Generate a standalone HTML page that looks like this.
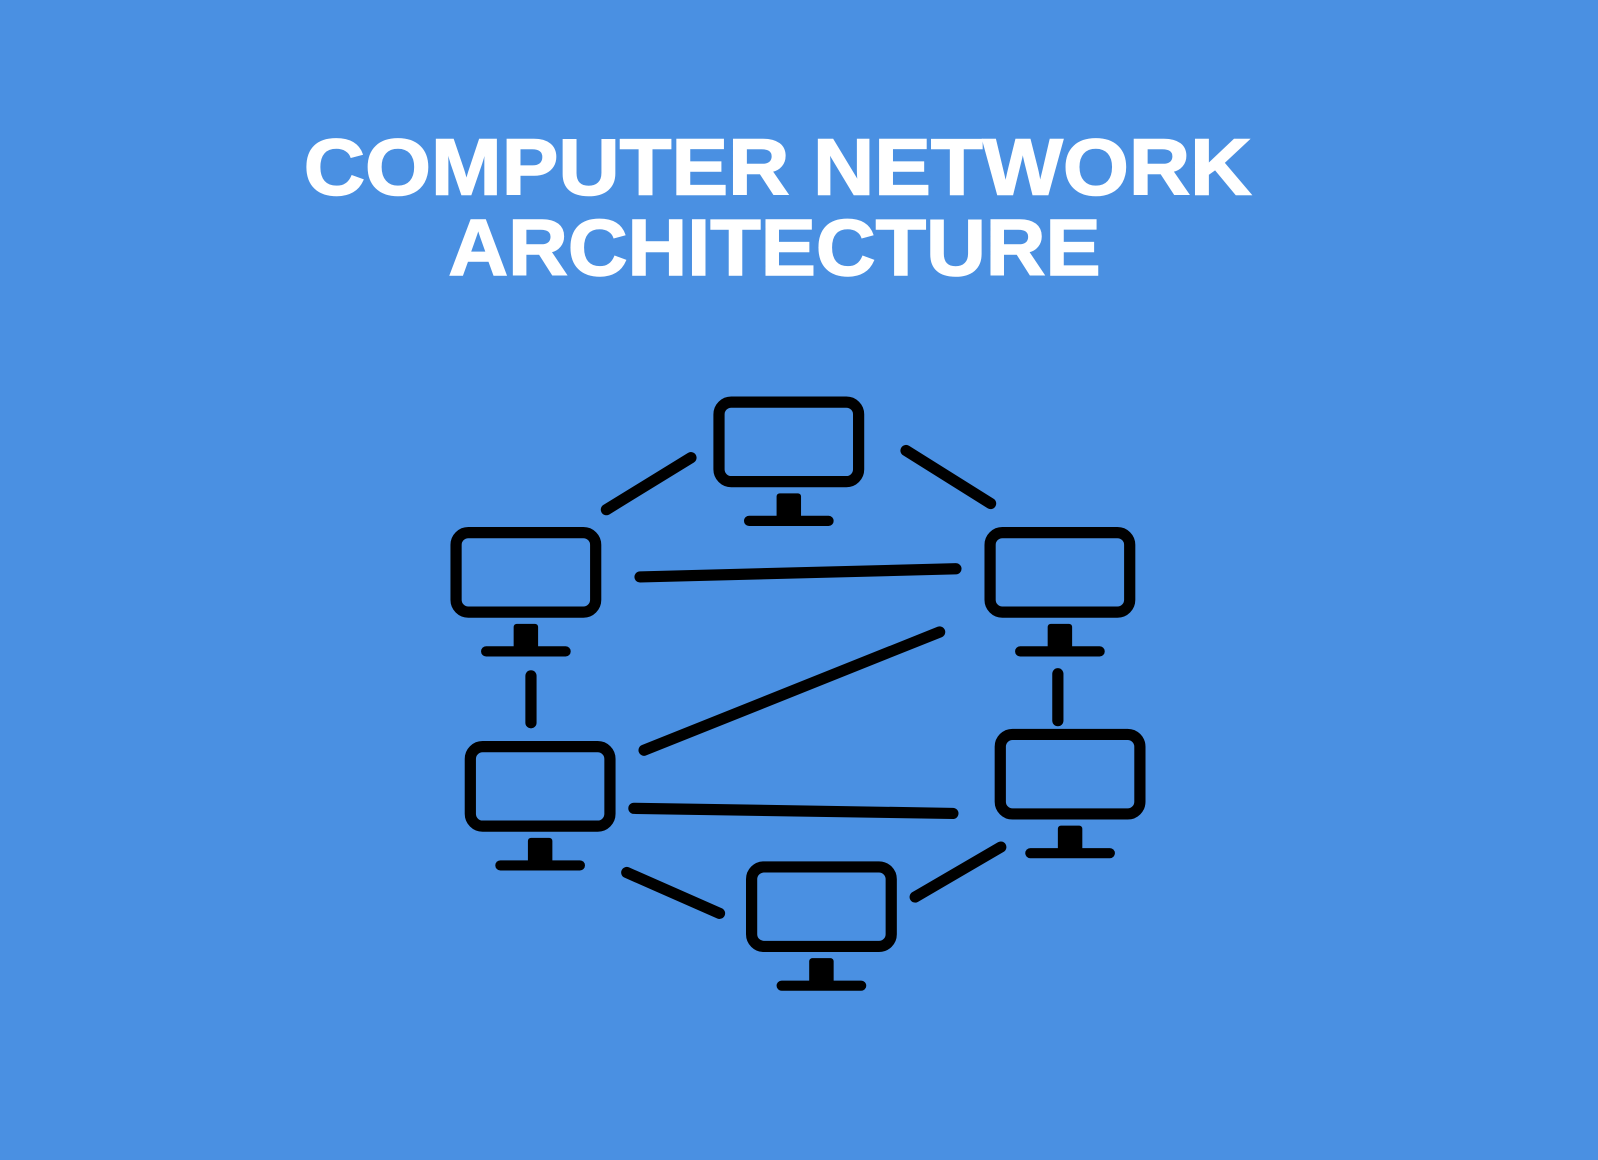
<!DOCTYPE html>
<html><head><meta charset="utf-8"><style>
html,body{margin:0;padding:0;background:#4a90e2;}
svg{display:block;}
</style></head><body>
<svg width="1598" height="1160" viewBox="0 0 1568 1138" preserveAspectRatio="none" xmlns="http://www.w3.org/2000/svg">
<rect width="1568" height="1138" fill="#4a90e2"/>
<g fill="#fff" stroke="#fff" stroke-width="1.5" font-family="Liberation Sans, sans-serif" font-weight="bold" font-size="78" text-anchor="start">
<text x="298" y="191" textLength="930" lengthAdjust="spacingAndGlyphs">COMPUTER NETWORK</text>
<text x="440" y="270" textLength="640" lengthAdjust="spacingAndGlyphs">ARCHITECTURE</text>
</g>
<defs>
<g id="m">
<rect x="5.5" y="5.5" width="137" height="78" rx="12" fill="none" stroke="#000" stroke-width="11"/>
<rect x="62" y="95" width="24" height="26" rx="3" fill="#000"/>
<line x1="35" y1="122" x2="113" y2="122" stroke="#000" stroke-width="10" stroke-linecap="round"/>
</g>
</defs>
<use href="#m" x="700" y="389"/>
<use href="#m" x="442" y="517"/>
<use href="#m" x="966" y="517"/>
<use href="#m" x="456" y="727"/>
<use href="#m" x="976" y="715"/>
<use href="#m" x="732" y="845"/>
<g stroke="#000" stroke-width="11" stroke-linecap="round" fill="none">
<line x1="595" y1="500" x2="678" y2="449"/>
<line x1="889" y1="442" x2="972" y2="494"/>
<line x1="628" y1="566" x2="938" y2="558"/>
<line x1="521" y1="663" x2="521" y2="709"/>
<line x1="1038" y1="661" x2="1038" y2="707"/>
<line x1="632" y1="736" x2="922" y2="620"/>
<line x1="622" y1="793" x2="935" y2="798"/>
<line x1="615" y1="856" x2="706" y2="896"/>
<line x1="898" y1="880" x2="982" y2="831"/>
</g>
</svg>
</body></html>
